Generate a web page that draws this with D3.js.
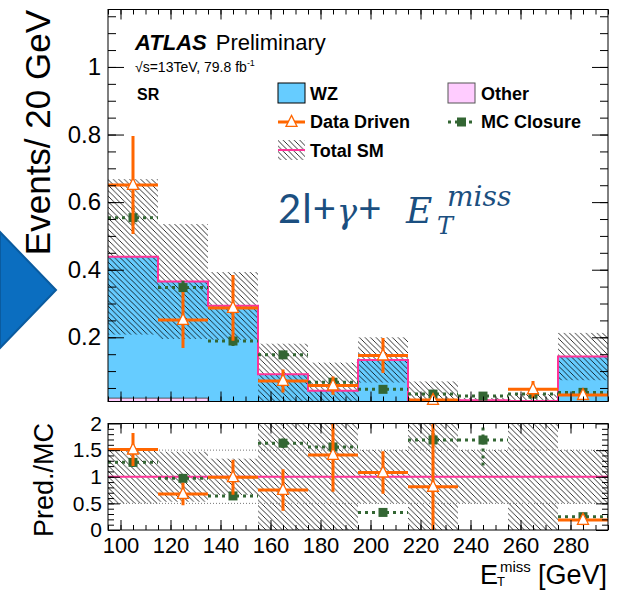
<!DOCTYPE html>
<html>
<head>
<meta charset="utf-8">
<script src="https://cdn.jsdelivr.net/npm/d3@7"></script>
<style>
  body { margin: 0; background: #fff; }
  svg { font-family: "Liberation Sans", Arial, sans-serif; }
  .lbl { font-weight: bold; font-size: 18px; }
</style>
</head>
<body>
<div id="chart"></div>
<script>
// --- data ---
var binEdges = [95, 115, 135, 155, 175, 195, 215, 235, 255, 275, 295];
var xTicks = [100, 120, 140, 160, 180, 200, 220, 240, 260, 280];
var yTicksMain = [0.2, 0.4, 0.6, 0.8, 1];
var yTicksRatio = [0, 0.5, 1, 1.5, 2];

var other   = [0.02, 0.02, 0, 0, 0, 0, 0, 0, 0, 0];
var wz      = [0.418, 0.345, 0.293, 0.091, 0.042, 0.133, 0.0145, 0.0135, 0.0115, 0.143];
var totalSM = [0.438, 0.365, 0.293, 0.091, 0.042, 0.133, 0.0145, 0.0135, 0.0115, 0.143];
var totalErr = [0.23, 0.17, 0.10, 0.09, 0.083, 0.067, 0.055, 0.007, 0.02, 0.07];

var dataDriven    = [0.651, 0.251, 0.287, 0.071, 0.057, 0.146, 0.0145, null, 0.046, 0.029];
var dataDrivenErr = [0.145, 0.083, 0.097, 0.034, 0.027, 0.052, 0.012, null, 0.025, 0.012];
var mcClosure     = [0.554, 0.347, 0.189, 0.148, 0.067, 0.046, 0.032, 0.026, 0.032, 0.037];
var mcClosureErr  = [0.03, 0.02, 0.015, 0.01, 0.008, 0.006, 0.006, 0.006, 0.006, 0.006];

var ratioBand  = [0.5, 0.47, 0.34, 1.1, 2.1, 0.5, 3.8, 0.5, 1.7, 0.5];
var ratioDD    = [1.51, 0.675, 0.99, 0.75, 1.41, 1.08, 0.81, null, null, 0.19];
var ratioDDErr = [0.31, 0.21, 0.33, 0.39, 0.69, 0.40, 1.3, null, null, 0.1];
var ratioMC    = [1.27, 0.97, 0.64, 1.63, 1.56, 0.33, 1.69, 1.69, null, 0.25];
var ratioMCErr = [0.085, 0.03, 0.04, 0.09, 0.08, 0.03, 0.13, 0.5, null, 0.04];

var cWZ = "#66ccff", cOther = "#ffccff", cTot = "#ff3399";
var cDD = "#ff6600", cMC = "#336633";

var W = 619, H = 590;
var svg = d3.select("#chart").append("svg")
  .attr("width", W).attr("height", H);

var defs = svg.append("defs");
defs.append("pattern")
  .attr("id", "hatch").attr("patternUnits", "userSpaceOnUse")
  .attr("width", 5.5).attr("height", 5.5)
  .append("path")
  .attr("d", "M-1,-1 L6.5,6.5 M-1,4.5 L1,6.5 M4.5,-1 L6.5,1")
  .attr("stroke", "#000").attr("stroke-width", 0.8);

/* Scales */
var x = d3.scaleLinear().domain([95, 295]).range([108, 608]);
var y = d3.scaleLinear().domain([0.01, 1.17]).range([401.5, 9.5]);
var yr = d3.scaleLinear().domain([0, 2]).range([530, 423.5]);

defs.append("clipPath").attr("id", "clipMain").append("rect")
  .attr("x", x(95)).attr("y", y(1.17)).attr("width", x(295) - x(95)).attr("height", y(0.01) - y(1.17));
defs.append("clipPath").attr("id", "clipRatio").append("rect")
  .attr("x", x(95)).attr("y", yr(2)).attr("width", x(295) - x(95)).attr("height", yr(0) - yr(2));

var bins = d3.range(10).map(function(i) {
  return { i: i, lo: binEdges[i], hi: binEdges[i + 1], c: (binEdges[i] + binEdges[i + 1]) / 2 };
});

/* blue arrow on the left */
svg.append("path")
  .attr("d", "M0,232 L56,290 L0,348 Z")
  .attr("fill", "#0b6ec0").attr("stroke", "#0a5b9f").attr("stroke-width", 2);

/* ---------- main panel ---------- */
var main = svg.append("g");
var mc = main.append("g").attr("clip-path", "url(#clipMain)");

// WZ stacked on Other
var area = d3.area().curve(d3.curveStepAfter)
  .x(function(d) { return x(d.x); })
  .y0(function(d) { return y(Math.max(d.o, 0.005)); })
  .y1(function(d) { return y(d.o + d.w); });
var stackPts = binEdges.map(function(e, k) {
  var i = Math.min(k, 9);
  return { x: e, o: other[i], w: wz[i] };
});
mc.append("path").attr("d", area(stackPts)).attr("fill", cWZ);

// Other
mc.selectAll(".other").data(bins.filter(function(b) { return other[b.i] > 0; })).enter()
  .append("rect")
  .attr("x", function(b) { return x(b.lo); })
  .attr("width", function(b) { return x(b.hi) - x(b.lo); })
  .attr("y", function(b) { return y(other[b.i]); })
  .attr("height", function(b) { return y(0.005) - y(other[b.i]); })
  .attr("fill", cOther).attr("stroke", "#333").attr("stroke-width", 0.8);

// uncertainty band
mc.selectAll(".band").data(bins).enter().append("rect")
  .attr("x", function(b) { return x(b.lo); })
  .attr("width", function(b) { return x(b.hi) - x(b.lo); })
  .attr("y", function(b) { return y(totalSM[b.i] + totalErr[b.i]); })
  .attr("height", function(b) {
    return y(Math.max(totalSM[b.i] - totalErr[b.i], 0.005)) - y(totalSM[b.i] + totalErr[b.i]);
  })
  .attr("fill", "url(#hatch)");

// total SM line
var step = d3.line().curve(d3.curveStepAfter)
  .x(function(d) { return x(d.x); })
  .y(function(d) { return y(d.v); });
mc.append("path")
  .attr("d", step(binEdges.map(function(e, k) { return { x: e, v: totalSM[Math.min(k, 9)] }; })))
  .attr("fill", "none").attr("stroke", cTot).attr("stroke-width", 2);

function tri(cx, cy, s) {
  return "M" + cx + "," + (cy - s * 0.6) + "L" + (cx + s / 2) + "," + (cy + s * 0.4) +
    "L" + (cx - s / 2) + "," + (cy + s * 0.4) + "Z";
}

function drawPoints(gClip, gFree, ys, vals, errs, kind) {
  var pts = bins.filter(function(b) { return vals[b.i] != null; });
  var col = kind === "dd" ? cDD : cMC;
  var dash = kind === "dd" ? null : "3,4";
  gClip.selectAll(null).data(pts).enter().append("line")
    .attr("x1", function(b) { return x(b.lo); }).attr("x2", function(b) { return x(b.hi); })
    .attr("y1", function(b) { return ys(vals[b.i]); }).attr("y2", function(b) { return ys(vals[b.i]); })
    .attr("stroke", col).attr("stroke-width", 3).attr("stroke-dasharray", dash);
  gClip.selectAll(null).data(pts).enter().append("line")
    .attr("x1", function(b) { return x(b.c); }).attr("x2", function(b) { return x(b.c); })
    .attr("y1", function(b) { return ys(vals[b.i] + errs[b.i]); })
    .attr("y2", function(b) { return ys(vals[b.i] - errs[b.i]); })
    .attr("stroke", col).attr("stroke-width", 3).attr("stroke-dasharray", dash);
  if (kind === "dd") {
    gFree.selectAll(null).data(pts).enter().append("path")
      .attr("d", function(b) { return tri(x(b.c), ys(vals[b.i]), 11); })
      .attr("fill", "#fff").attr("stroke", cDD).attr("stroke-width", 1.3);
  } else {
    gFree.selectAll(null).data(pts).enter().append("rect")
      .attr("x", function(b) { return x(b.c) - 4.5; })
      .attr("y", function(b) { return ys(vals[b.i]) - 4.5; })
      .attr("width", 9).attr("height", 9).attr("fill", cMC);
  }
}

var mFree = main.append("g");
drawPoints(mc, mFree, y, mcClosure, mcClosureErr, "mc");
var mc2 = main.append("g").attr("clip-path", "url(#clipMain)");
var mFree2 = main.append("g");
drawPoints(mc2, mFree2, y, dataDriven, dataDrivenErr, "dd");

// frame + ticks
main.append("rect")
  .attr("x", x(95)).attr("y", y(1.17)).attr("width", x(295) - x(95)).attr("height", y(0.01) - y(1.17))
  .attr("fill", "none").attr("stroke", "#000").attr("stroke-width", 1);

function styleAxis(g, size) {
  g.select(".domain").remove();
  g.selectAll("line").attr("stroke", "#000");
  g.selectAll("text").attr("font-family", "Liberation Sans, Arial, sans-serif")
    .attr("font-size", size).attr("fill", "#000");
}

var minorY = d3.range(0.05, 1.17, 0.05);
var minorX = d3.range(95, 296, 5);

main.append("g").attr("transform", "translate(" + x(95) + ",0)")
  .call(d3.axisLeft(y).tickValues(minorY).tickSize(-8).tickFormat(""))
  .call(styleAxis, 24);
main.append("g").attr("transform", "translate(" + x(95) + ",0)")
  .call(d3.axisLeft(y).tickValues(yTicksMain).tickSize(-16).tickPadding(7).tickFormat(d3.format("")))
  .call(styleAxis, 24);
main.append("g").attr("transform", "translate(" + x(295) + ",0)")
  .call(d3.axisRight(y).tickValues(minorY).tickSize(-8).tickFormat(""))
  .call(styleAxis, 24);
main.append("g").attr("transform", "translate(" + x(295) + ",0)")
  .call(d3.axisRight(y).tickValues(yTicksMain).tickSize(-16).tickFormat(""))
  .call(styleAxis, 24);
[[y(0.01), d3.axisBottom], [y(1.17), d3.axisTop]].forEach(function(a) {
  main.append("g").attr("transform", "translate(0," + a[0] + ")")
    .call(a[1](x).tickValues(minorX).tickSize(-5).tickFormat(""))
    .call(styleAxis, 22);
  main.append("g").attr("transform", "translate(0," + a[0] + ")")
    .call(a[1](x).tickValues(xTicks).tickSize(-10).tickFormat(""))
    .call(styleAxis, 22);
});

/* ---------- ratio panel ---------- */
var rat = svg.append("g");
var rc = rat.append("g").attr("clip-path", "url(#clipRatio)");
rc.selectAll(".rband").data(bins).enter().append("rect")
  .attr("x", function(b) { return x(b.lo); })
  .attr("width", function(b) { return x(b.hi) - x(b.lo); })
  .attr("y", function(b) { return yr(1 + ratioBand[b.i]); })
  .attr("height", function(b) { return yr(1 - ratioBand[b.i]) - yr(1 + ratioBand[b.i]); })
  .attr("fill", "url(#hatch)");
[0.5, 1.5].forEach(function(v) {
  rc.append("line").attr("x1", x(95)).attr("x2", x(295))
    .attr("y1", yr(v)).attr("y2", yr(v))
    .attr("stroke", "#777").attr("stroke-width", 1).attr("stroke-dasharray", "1,2");
});
rc.append("line").attr("x1", x(95)).attr("x2", x(295))
  .attr("y1", yr(1)).attr("y2", yr(1))
  .attr("stroke", cTot).attr("stroke-width", 2);

var rFree = rat.append("g").attr("clip-path", "url(#clipRatio)");
drawPoints(rc, rFree, yr, ratioMC, ratioMCErr, "mc");
var rc2 = rat.append("g").attr("clip-path", "url(#clipRatio)");
var rFree2 = rat.append("g").attr("clip-path", "url(#clipRatio)");
drawPoints(rc2, rFree2, yr, ratioDD, ratioDDErr, "dd");

rat.append("rect")
  .attr("x", x(95)).attr("y", yr(2)).attr("width", x(295) - x(95)).attr("height", yr(0) - yr(2))
  .attr("fill", "none").attr("stroke", "#000").attr("stroke-width", 1);

var minorYR = d3.range(0.1, 2, 0.1);
rat.append("g").attr("transform", "translate(" + x(95) + ",0)")
  .call(d3.axisLeft(yr).tickValues(minorYR).tickSize(-6).tickFormat(""))
  .call(styleAxis, 21);
rat.append("g").attr("transform", "translate(" + x(95) + ",0)")
  .call(d3.axisLeft(yr).tickValues(yTicksRatio).tickSize(-12).tickPadding(6).tickFormat(d3.format("")))
  .call(styleAxis, 21);
rat.append("g").attr("transform", "translate(" + x(295) + ",0)")
  .call(d3.axisRight(yr).tickValues(minorYR).tickSize(-6).tickFormat(""))
  .call(styleAxis, 21);
rat.append("g").attr("transform", "translate(" + x(295) + ",0)")
  .call(d3.axisRight(yr).tickValues(yTicksRatio).tickSize(-12).tickFormat(""))
  .call(styleAxis, 21);
rat.append("g").attr("transform", "translate(0," + yr(2) + ")")
  .call(d3.axisTop(x).tickValues(minorX).tickSize(-5).tickFormat(""))
  .call(styleAxis, 22);
rat.append("g").attr("transform", "translate(0," + yr(2) + ")")
  .call(d3.axisTop(x).tickValues(xTicks).tickSize(-10).tickFormat(""))
  .call(styleAxis, 22);
rat.append("g").attr("transform", "translate(0," + yr(0) + ")")
  .call(d3.axisBottom(x).tickValues(minorX).tickSize(-5).tickFormat(""))
  .call(styleAxis, 22);
rat.append("g").attr("transform", "translate(0," + yr(0) + ")")
  .call(d3.axisBottom(x).tickValues(xTicks).tickSize(-10).tickPadding(7).tickFormat(d3.format("")))
  .call(styleAxis, 22);

/* ---------- titles ---------- */
svg.append("text").attr("transform", "translate(50,10) rotate(-90)")
  .attr("text-anchor", "end").attr("font-size", 35).text("Events/ 20 GeV");
svg.append("text").attr("transform", "translate(53,423) rotate(-90)")
  .attr("text-anchor", "end").attr("font-size", 27).text("Pred./MC");

svg.append("text").attr("x", 607).attr("y", 584).attr("text-anchor", "end")
  .attr("font-size", 27).text("[GeV]");
svg.append("text").attr("x", 480).attr("y", 584).attr("font-size", 27).text("E");
svg.append("text").attr("x", 500).attr("y", 572).attr("font-size", 15).text("miss");
svg.append("text").attr("x", 497).attr("y", 586).attr("font-size", 13).text("T");

var atl = svg.append("text").attr("x", 135).attr("y", 50).attr("font-size", 22);
atl.append("tspan").attr("font-weight", "bold").attr("font-style", "italic").text("ATLAS");
atl.append("tspan").attr("dx", 9).text("Preliminary");

var en = svg.append("text").attr("x", 135).attr("y", 72).attr("font-size", 14);
en.append("tspan").text("\u221As=13TeV, 79.8 fb");
en.append("tspan").attr("font-size", 9).attr("dy", -6).text("-1");

svg.append("text").attr("x", 137).attr("y", 100).attr("font-size", 16)
  .attr("font-weight", "bold").text("SR");

/* ---------- legend ---------- */
var leg = svg.append("g");
leg.append("rect").attr("x", 278).attr("y", 83).attr("width", 27).attr("height", 20)
  .attr("fill", cWZ).attr("stroke", "#000").attr("stroke-width", 1);
leg.append("text").attr("class", "lbl").attr("x", 310).attr("y", 100).text("WZ");

leg.append("rect").attr("x", 448).attr("y", 83).attr("width", 27).attr("height", 20)
  .attr("fill", cOther).attr("stroke", "#555").attr("stroke-width", 1);
leg.append("text").attr("class", "lbl").attr("x", 481).attr("y", 100).text("Other");

leg.append("line").attr("x1", 278).attr("x2", 305).attr("y1", 122).attr("y2", 122)
  .attr("stroke", cDD).attr("stroke-width", 3);
leg.append("path").attr("d", tri(291.5, 122, 11))
  .attr("fill", "#fff").attr("stroke", cDD).attr("stroke-width", 1.3);
leg.append("text").attr("class", "lbl").attr("x", 310).attr("y", 128).text("Data Driven");

leg.append("line").attr("x1", 448).attr("x2", 475).attr("y1", 122).attr("y2", 122)
  .attr("stroke", cMC).attr("stroke-width", 3).attr("stroke-dasharray", "3,4");
leg.append("rect").attr("x", 457).attr("y", 117.5).attr("width", 9).attr("height", 9).attr("fill", cMC);
leg.append("text").attr("class", "lbl").attr("x", 481).attr("y", 128).text("MC Closure");

leg.append("rect").attr("x", 278).attr("y", 140).attr("width", 27).attr("height", 20)
  .attr("fill", "url(#hatch)");
leg.append("line").attr("x1", 278).attr("x2", 305).attr("y1", 150).attr("y2", 150)
  .attr("stroke", cTot).attr("stroke-width", 2);
leg.append("text").attr("class", "lbl").attr("x", 310).attr("y", 157).text("Total SM");

/* ---------- process label ---------- */
var pl = svg.append("text").attr("x", 278).attr("y", 223).attr("font-size", 40)
  .attr("letter-spacing", 1)
  .attr("fill", "#1b4f80").attr("font-family", "Lato, 'Open Sans', sans-serif");
pl.append("tspan").text("2l+");
pl.append("tspan").attr("font-family", "DejaVu Serif").attr("font-style", "italic").attr("font-size", 34).text("\u03B3");
pl.append("tspan").text("+");
var etc = svg.append("g").attr("fill", "#1b4f80").attr("font-family", "DejaVu Serif").attr("font-style", "italic");
etc.append("text").attr("x", 406).attr("y", 223).attr("font-size", 36).text("E");
etc.append("text").attr("x", 437).attr("y", 234).attr("font-size", 24).text("T");
etc.append("text").attr("x", 447).attr("y", 206).attr("font-size", 28).text("miss");
</script>
</body>
</html>
